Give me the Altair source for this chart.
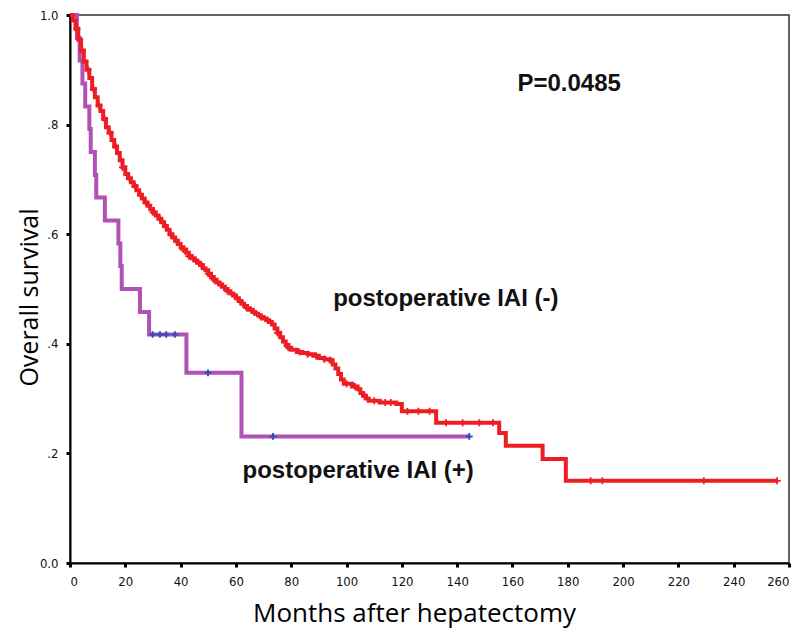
import altair as alt
import pandas as pd
import numpy as np

# ---- data ----
red_time = [0, 1, 2, 3, 4, 5, 6, 7, 8, 9, 10, 11, 12, 13, 14, 15, 16, 17, 18, 19, 20,
            21, 22, 23, 24, 25, 26, 27, 28, 29, 30, 31, 32, 33, 34, 35, 36, 37, 38, 39, 40,
            41, 42, 43, 44, 45, 46, 47, 48, 49, 50, 51, 52, 53, 54, 55, 56, 57, 58, 59, 60,
            61, 62, 63, 64, 65, 66, 67, 68, 69, 70, 71, 72, 73, 74, 75, 76, 77, 78, 79, 80,
            82, 84, 86, 88, 90, 92, 94, 95, 96, 97, 98, 99, 102, 104, 105, 106, 107, 108,
            112, 118, 120, 132.4, 155.2, 157.6, 170.9, 179.3, 255.7]
red_surv = [1.0, 0.99, 0.975, 0.955, 0.935, 0.915, 0.9, 0.885, 0.865, 0.85, 0.835, 0.825,
            0.81, 0.795, 0.785, 0.772, 0.76, 0.748, 0.735, 0.722, 0.71,
            0.702, 0.695, 0.688, 0.68, 0.672, 0.665, 0.658, 0.652, 0.646, 0.64,
            0.634, 0.628, 0.622, 0.615, 0.608, 0.6, 0.594, 0.588, 0.582, 0.576,
            0.572, 0.566, 0.56, 0.556, 0.552, 0.548, 0.544, 0.538, 0.534, 0.528,
            0.522, 0.517, 0.512, 0.508, 0.504, 0.5, 0.496, 0.492, 0.488, 0.483,
            0.478, 0.473, 0.469, 0.465, 0.462, 0.458, 0.455, 0.452, 0.449, 0.446,
            0.443, 0.44, 0.435, 0.428, 0.42, 0.412, 0.404, 0.398, 0.393, 0.389,
            0.385, 0.383, 0.381, 0.378, 0.374, 0.372, 0.37, 0.362, 0.355, 0.345, 0.335, 0.327,
            0.322, 0.317, 0.31, 0.305, 0.3, 0.296, 0.293, 0.29, 0.277, 0.256, 0.237, 0.214,
            0.19, 0.15, 0.15]
red_censor = [2.5, 4.5, 6.5, 8.5, 10.5, 12.5, 14.5, 16.5, 19, 21.5, 23.5, 25.5, 27.5, 30,
              32.5, 34.5, 36.5, 38.5, 41, 43, 45.5, 47.5, 50, 52, 54.5, 57, 59.5, 61.5, 64,
              66.5, 69, 71.5, 75, 79, 83, 86, 89, 92, 94, 100, 103, 106.5, 110, 114, 116,
              122, 126, 130, 136, 142, 148, 153, 188.3, 192.5, 229.2, 255.7]

pur_time = [0, 2.5, 3.5, 4.5, 5.5, 7.0, 7.5, 9.0, 9.5, 12.6, 17.5, 18.2, 18.7, 25.3, 28.6,
            42.1, 62.0, 144.4]
pur_surv = [1.0, 0.958, 0.917, 0.875, 0.833, 0.792, 0.75, 0.708, 0.667, 0.625, 0.583, 0.542,
            0.5, 0.458, 0.417, 0.347, 0.231, 0.231]
pur_censor = [29.9, 32.5, 34.8, 37.9, 49.9, 73.4, 144.4]

x_ticks = list(range(0, 261, 20))
y_ticks = [0, 0.2, 0.4, 0.6, 0.8, 1.0]

labels = ["P=0.0485", "postoperative IAI (-)", "postoperative IAI (+)"]
label_x = [180.5, 135.9, 104.2]
label_y = [0.875, 0.482, 0.168]


def step_lookup(times, survs, ts):
    idx = np.searchsorted(np.array(times), np.array(ts), side="right") - 1
    return [survs[i] for i in idx]


red_df = pd.DataFrame({"t": red_time, "s": red_surv})
pur_df = pd.DataFrame({"t": pur_time, "s": pur_surv})
red_c = pd.DataFrame({"t": red_censor, "s": step_lookup(red_time, red_surv, red_censor)})
pur_c = pd.DataFrame({"t": pur_censor, "s": step_lookup(pur_time, pur_surv, pur_censor)})
lab_df = pd.DataFrame({"label": labels, "t": label_x, "s": label_y})

RED = "#EE1D23"
PURPLE = "#B150B5"
BLUE = "#2F4FB8"
PLUS = "M-1,0L1,0M0,-1L0,1"

x_scale = alt.Scale(domain=[0, 260], nice=False, zero=False)
y_scale = alt.Scale(domain=[0, 1], nice=False, zero=False)


def X():
    return alt.X("t:Q", scale=x_scale,
                 axis=alt.Axis(values=x_ticks, title="Months after hepatectomy",
                               titleX=344, titleY=58, titleBaseline="alphabetic",
                               titleAlign="center", labelPadding=8, format="d"))


def Y():
    return alt.Y("s:Q", scale=y_scale,
                 axis=alt.Axis(values=y_ticks, title="Overall survival",
                               titleX=-33, titleY=282, titleAngle=270, titleFontSize=25,
                               titleAlign="center", titleBaseline="alphabetic",
                               labelPadding=8,
                               labelExpr="datum.value == 0 ? '0.0' : (datum.value == 1 ? '1.0' : '.' + round(datum.value * 10))"))


pur_line = alt.Chart(pur_df).mark_line(interpolate="step-after", color=PURPLE,
                                       strokeWidth=4).encode(x=X(), y=Y())
pur_pts = alt.Chart(pur_c).mark_point(shape=PLUS, filled=False, color=BLUE, size=44,
                                      strokeWidth=2, opacity=1).encode(x=X(), y=Y())
red_line = alt.Chart(red_df).mark_line(interpolate="step-after", color=RED,
                                       strokeWidth=4).encode(x=X(), y=Y())
red_pts = alt.Chart(red_c).mark_point(shape=PLUS, filled=False, color=RED, size=50,
                                      strokeWidth=1.8, opacity=1).encode(x=X(), y=Y())
texts = alt.Chart(lab_df).mark_text(font="Liberation Sans", fontWeight="bold", fontSize=24,
                                    color="#111111", align="center",
                                    baseline="middle").encode(x=X(), y=Y(), text="label:N")

chart = alt.layer(pur_line, pur_pts, red_line, red_pts, texts).properties(
    width=719, height=548,
    padding={"left": 62, "top": 7, "right": 3, "bottom": 65},
    autosize=alt.AutoSizeParams(type="none"),
    background="white",
).configure_view(
    stroke="#333333", strokeWidth=1.5
).configure_axis(
    grid=False, domainColor="#000000", domainWidth=2, tickColor="#000000",
    tickWidth=3, tickSize=4,
    labelFont="DejaVu Sans Condensed, Liberation Sans Narrow, sans-serif",
    labelFontSize=13, labelColor="#111111",
    titleFont="Open Sans", titleFontSize=26, titleFontWeight="normal", titleColor="#000000",
)

chart.save("out.html", embed_options={"renderer": "svg", "actions": False})
